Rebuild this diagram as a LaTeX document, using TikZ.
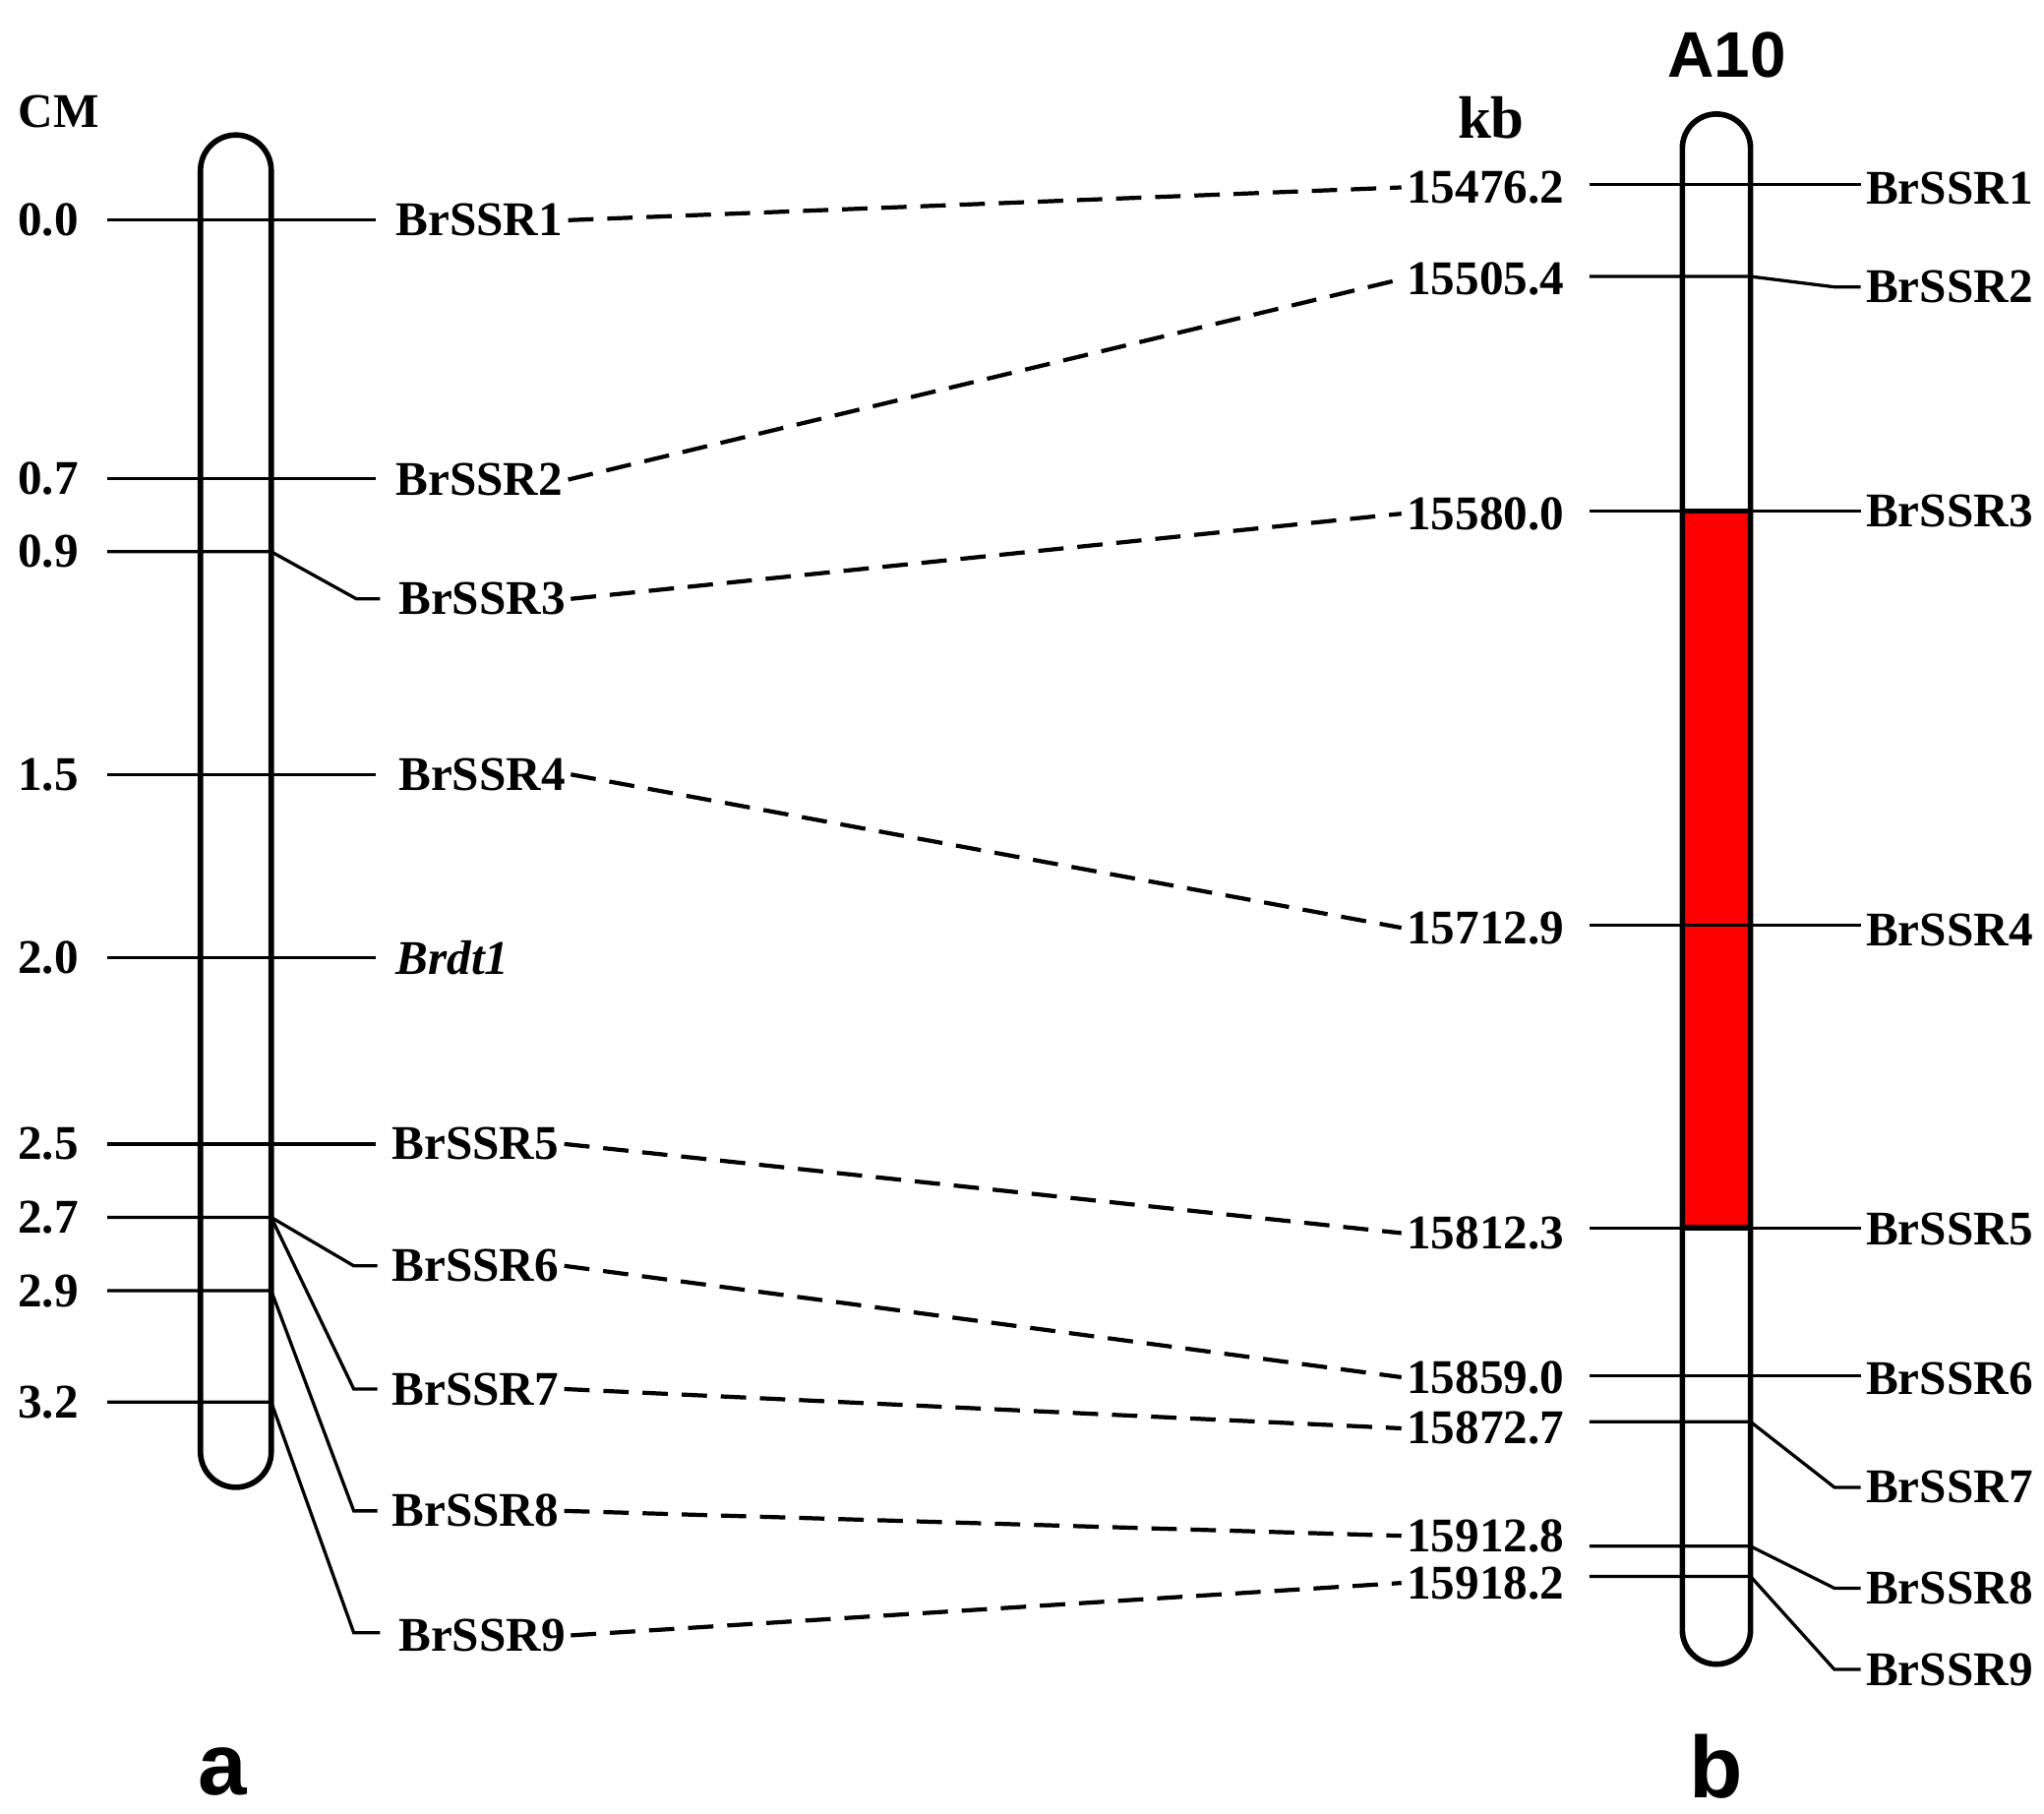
\documentclass[tikz,border=0pt]{standalone}
\usepackage{fontspec}
\setmainfont{Liberation Serif}
\newfontfamily\sansf{Liberation Sans}
\begin{document}
\begin{tikzpicture}[x=0.01cm,y=-0.01cm,
  lab/.style={font=\fontsize{10.5}{12}\selectfont\bfseries, inner sep=1pt},
  big/.style={font=\sansf\fontsize{19}{21}\selectfont\bfseries},
  ln/.style={line width=0.7pt},
  dsh/.style={line width=0.9pt, dash pattern=on 5.5pt off 3pt}]
\useasboundingbox (0,0) rectangle (1560,1384);
% left chromosome
\draw[ln,line width=1.2pt,rounded corners=0.27cm] (153,103) rectangle (207,1135);
% right chromosome
\fill[red] (1284,390) rectangle (1336,937);
\draw[ln,line width=1.2pt,rounded corners=0.26cm] (1284,87) rectangle (1336,1270);
\draw[ln,line width=1.2pt] (1284,390) -- (1336,390) (1284,937) -- (1336,937);
\node[lab] (cm) at (45,85) {CM};
\node[lab,font=\fontsize{13}{14}\selectfont\bfseries] (kb) at (1138,90) {kb};
\node[big,font=\sansf\fontsize{14}{16}\selectfont\bfseries] (a10) at (1318,42) {A10};
\node[big] (la) at (170,1352) {a};
\node[big] (lb) at (1310,1348) {b};
% left scale
\foreach \v/\y [count=\i] in {0.0/168,0.7/365,0.9/421,1.5/591,2.0/731,2.5/873,2.7/929,2.9/985,3.2/1070}{
  \node[lab,anchor=east] (c\i) at (64,\y) {\v};
}
\draw[ln] (82,168) -- (287,168);
\draw[ln] (82,365) -- (287,365);
\draw[ln] (82,421) -- (207,421) -- (272,457) -- (290,457);
\draw[ln] (82,591) -- (287,591);
\draw[ln] (82,731) -- (287,731);
\draw[ln] (82,873) -- (287,873);
\draw[ln] (82,929) -- (207,929) -- (270,966) -- (288,966);
\draw[ln] (207,929) -- (270,1060) -- (288,1060);
\draw[ln] (82,985) -- (207,985) -- (270,1153) -- (288,1153);
\draw[ln] (82,1070) -- (207,1070) -- (270,1246) -- (290,1246);
\node[lab,anchor=west] (l1) at (298,168) {BrSSR1};
\node[lab,anchor=west] (l2) at (298,366) {BrSSR2};
\node[lab,anchor=west] (l3) at (300,457) {BrSSR3};
\node[lab,anchor=west] (l4) at (300,591) {BrSSR4};
\node[lab,anchor=west] (lg) at (298,731) {\itshape Brdt1};
\node[lab,anchor=west] (l5) at (295,873) {BrSSR5};
\node[lab,anchor=west] (l6) at (295,966) {BrSSR6};
\node[lab,anchor=west] (l7) at (295,1060) {BrSSR7};
\node[lab,anchor=west] (l8) at (295,1153) {BrSSR8};
\node[lab,anchor=west] (l9) at (300,1248) {BrSSR9};
% kb labels
\foreach \v/\y [count=\i] in {15476.2/143,15505.4/213,15580.0/392,15712.9/708,15812.3/941,15859.0/1051,15872.7/1090,15912.8/1172,15918.2/1208}{
  \node[lab,anchor=east] (k\i) at (1198,\y) {\v};
}
% right lines
\draw[ln] (1213,141) -- (1420,141);
\draw[ln] (1213,211) -- (1336,211) -- (1400,219) -- (1420,219);
\draw[ln] (1213,390) -- (1420,390);
\draw[ln] (1213,706) -- (1420,706);
\draw[ln] (1213,937) -- (1420,937);
\draw[ln] (1213,1050) -- (1420,1050);
\draw[ln] (1213,1085) -- (1336,1085) -- (1400,1135) -- (1420,1135);
\draw[ln] (1213,1180) -- (1336,1180) -- (1400,1212) -- (1420,1212);
\draw[ln] (1213,1203) -- (1336,1203) -- (1400,1274) -- (1420,1274);
\foreach \y [count=\i] in {144,219,390,710,938,1052,1135,1212,1274}{
  \node[lab,anchor=west] (r\i) at (1420,\y) {BrSSR\i};
}
% dashed connectors
\draw[dsh] (l1.east) -- (k1.west);
\draw[dsh] (l2.east) -- (k2.west);
\draw[dsh] (l3.east) -- (k3.west);
\draw[dsh] (l4.east) -- (k4.west);
\draw[dsh] (l5.east) -- (k5.west);
\draw[dsh] (l6.east) -- (k6.west);
\draw[dsh] (l7.east) -- (k7.west);
\draw[dsh] (l8.east) -- (k8.west);
\draw[dsh] (l9.east) -- (k9.west);
\end{tikzpicture}
\end{document}
